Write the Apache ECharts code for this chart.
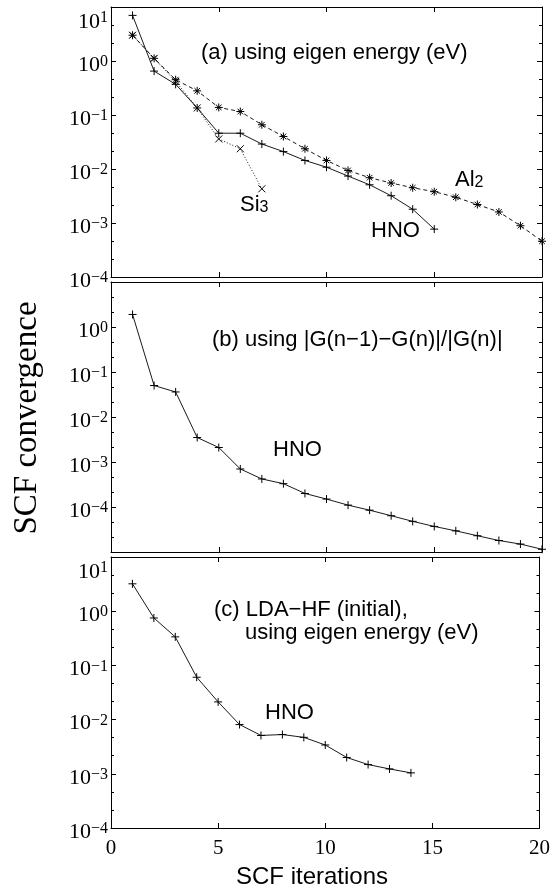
<!DOCTYPE html>
<html>
<head>
<meta charset="utf-8">
<script src="https://cdn.jsdelivr.net/npm/echarts@6/dist/echarts.min.js"></script>
<style>
  html, body { margin: 0; padding: 0; background: #fff; }
  #main { width: 553px; height: 890px; }
</style>
</head>
<body>
<div id="main"></div>
<script>
// SCF iteration index
const iterations = [1, 2, 3, 4, 5, 6, 7, 8, 9, 10, 11, 12, 13, 14, 15, 16, 17, 18, 19, 20];

// (a) eigen energy convergence (eV)
const hnoA = [7.0, 0.65, 0.37, 0.135, 0.046, 0.046, 0.029, 0.021, 0.0144, 0.0108, 0.0074, 0.0051, 0.0032, 0.0018, 0.00077];
const al2A = [3.0, 1.12, 0.45, 0.28, 0.138, 0.116, 0.066, 0.040, 0.0237, 0.0144, 0.0094, 0.0069, 0.0055, 0.0045, 0.0038, 0.0030, 0.0022, 0.0016, 0.00089, 0.00046];
const si3A = [3.0, 1.12, 0.42, 0.135, 0.036, 0.0237, 0.0043];

// (b) |G(n-1)-G(n)|/|G(n)|
const hnoB = [1.9, 0.05, 0.036, 0.0035, 0.0021, 0.0007, 0.00042, 0.00033, 0.0002, 0.00015, 0.00011, 0.000085, 0.000064, 0.000048, 0.000037, 0.0000295, 0.000023, 0.000018, 0.000015, 0.0000115];

// (c) LDA-HF initial, eigen energy
const hnoC = [3.2, 0.75, 0.336, 0.0605, 0.0212, 0.0081, 0.0051, 0.0053, 0.0047, 0.0034, 0.0020, 0.00148, 0.00123, 0.00104];

const xTicks = [0, 5, 10, 15, 20];
// y ranges (decades) per panel
const yExpA = [-4, 1];
const yExpB = [-5, 1];
const yExpC = [-4, 1];

const chart = echarts.init(document.getElementById('main'));

const pairs = vals => vals.map((v, i) => [iterations[i], v]);

const SERIF = '"Liberation Serif", "DejaVu Serif", serif';
const SANS = '"Liberation Sans", Arial, sans-serif';

// marker shapes (stroked)
const plusPath = 'path://M0,5L10,5M5,0L5,10';
const starPath = 'path://M0,5L10,5M5,0L5,10M1.5,1.5L8.5,8.5M8.5,1.5L1.5,8.5';
const crossPath = 'path://M0,0L10,10M10,0L0,10';

const grids = [
  { left: 111, right: 11, top: 5, height: 272 },
  { left: 111, right: 11, top: 282, height: 270 },
  { left: 111, right: 11, top: 557, height: 271 }
];

const black = { color: '#000', width: 1 };

function xAxisFor(g, pos, showLabel) {
  return {
    type: 'value', gridIndex: g, position: pos,
    min: xTicks[0], max: xTicks[xTicks.length - 1], interval: 5,
    axisLine: { show: true, onZero: false, lineStyle: black },
    axisTick: { show: true, inside: true, length: 5, lineStyle: black },
    axisLabel: { show: showLabel, margin: 10, color: '#000', fontFamily: SERIF, fontSize: 21 },
    splitLine: { show: false }
  };
}

// main log axis with the 10^n labels
function logAxisFor(g, exps, hidden) {
  return {
    type: 'log', logBase: 10, gridIndex: g, position: 'left',
    min: Math.pow(10, exps[0]), max: Math.pow(10, exps[1]),
    axisLine: { show: true, onZero: false, lineStyle: black },
    axisTick: { show: true, inside: true, length: 5, lineStyle: black },
    minorTick: { show: false },
    splitLine: { show: false },
    axisLabel: {
      show: true, margin: 3, padding: [8, 0, 0, 0],
      formatter: function (v) {
        const lg = Math.log10(v);
        const e = Math.round(lg);
        if (Math.abs(lg - e) > 1e-6 || hidden.indexOf(e) >= 0) return '';
        const s = e < 0 ? '\u2212' + (-e) : String(e);
        // the top label sits a bit below its tick in the original
        if (e === exps[1]) return '{B|10}{E|' + s + '}';
        return '{b|10}{e|' + s + '}';
      },
      rich: {
        b: { fontFamily: SERIF, fontSize: 22, lineHeight: 22, color: '#000', verticalAlign: 'bottom' },
        e: { fontFamily: SERIF, fontSize: 16, lineHeight: 16, color: '#000', verticalAlign: 'top' },
        B: { fontFamily: SERIF, fontSize: 22, lineHeight: 22, padding: [11, 0, 0, 0], color: '#000', verticalAlign: 'top' },
        E: { fontFamily: SERIF, fontSize: 16, lineHeight: 16, padding: [10, 0, 0, 0], color: '#000', verticalAlign: 'top' }
      }
    }
  };
}

// decade axis (log10 units) used only for the frame ticks and the minor ticks
function tickAxisFor(g, exps, pos, showLine, showMajor) {
  return {
    type: 'value', gridIndex: g, position: pos,
    min: exps[0], max: exps[1], interval: 1,
    axisLine: { show: showLine, onZero: false, lineStyle: black },
    axisTick: { show: showMajor, inside: true, length: 5, lineStyle: black },
    minorTick: { show: true, splitNumber: 3, length: 3, lineStyle: black },
    axisLabel: { show: false },
    splitLine: { show: false },
    minorSplitLine: { show: false }
  };
}

const lineBase = {
  type: 'line',
  showSymbol: true,
  itemStyle: { color: '#fff', borderColor: '#000', borderWidth: 1 },
  emphasis: { disabled: true },
  z: 3
};

const option = {
  backgroundColor: '#fff',
  animation: false,
  grid: grids,
  xAxis: [
    xAxisFor(0, 'bottom', false), xAxisFor(0, 'top', false),
    xAxisFor(1, 'bottom', false), xAxisFor(1, 'top', false),
    xAxisFor(2, 'bottom', true), xAxisFor(2, 'top', false)
  ],
  yAxis: [
    logAxisFor(0, yExpA, []),
    tickAxisFor(0, yExpA, 'left', false, false),
    tickAxisFor(0, yExpA, 'right', true, true),
    logAxisFor(1, yExpB, [1, -5]),
    tickAxisFor(1, yExpB, 'left', false, false),
    tickAxisFor(1, yExpB, 'right', true, true),
    logAxisFor(2, yExpC, []),
    tickAxisFor(2, yExpC, 'left', false, false),
    tickAxisFor(2, yExpC, 'right', true, true)
  ],
  series: [
    Object.assign({}, lineBase, {
      name: 'Al2', xAxisIndex: 0, yAxisIndex: 0, data: pairs(al2A),
      symbol: starPath, symbolSize: 8,
      lineStyle: { color: '#000', width: 0.9, type: [4, 3] }
    }),
    Object.assign({}, lineBase, {
      name: 'Si3', xAxisIndex: 0, yAxisIndex: 0, data: pairs(si3A),
      symbol: crossPath, symbolSize: 7,
      lineStyle: { color: '#000', width: 0.9, type: [1, 2] }
    }),
    Object.assign({}, lineBase, {
      name: 'HNO a', xAxisIndex: 0, yAxisIndex: 0, data: pairs(hnoA),
      symbol: plusPath, symbolSize: 8,
      lineStyle: { color: '#000', width: 0.9 }
    }),
    Object.assign({}, lineBase, {
      name: 'HNO b', xAxisIndex: 2, yAxisIndex: 3, data: pairs(hnoB),
      symbol: plusPath, symbolSize: 8,
      lineStyle: { color: '#000', width: 0.9 }
    }),
    Object.assign({}, lineBase, {
      name: 'HNO c', xAxisIndex: 4, yAxisIndex: 6, data: pairs(hnoC),
      symbol: plusPath, symbolSize: 8,
      lineStyle: { color: '#000', width: 0.9 }
    })
  ],
  graphic: [
    { type: 'text', x: 201, y: 53, style: { text: '(a) using eigen energy (eV)', font: '22px ' + SANS, fill: '#000', verticalAlign: 'middle' } },
    {
      type: 'text', x: 455, y: 180,
      style: {
        text: '{n|Al}{s|2}', verticalAlign: 'middle', fill: '#000',
        rich: {
          n: { font: '22px ' + SANS, lineHeight: 22, verticalAlign: 'top', fill: '#000' },
          s: { font: '16px ' + SANS, lineHeight: 16, verticalAlign: 'bottom', fill: '#000' }
        }
      }
    },
    {
      type: 'text', x: 240, y: 205,
      style: {
        text: '{n|Si}{s|3}', verticalAlign: 'middle', fill: '#000',
        rich: {
          n: { font: '22px ' + SANS, lineHeight: 22, verticalAlign: 'top', fill: '#000' },
          s: { font: '16px ' + SANS, lineHeight: 16, verticalAlign: 'bottom', fill: '#000' }
        }
      }
    },
    { type: 'text', x: 371, y: 231, style: { text: 'HNO', font: '22px ' + SANS, fill: '#000', verticalAlign: 'middle' } },
    { type: 'text', x: 212, y: 340, style: { text: '(b) using |G(n\u22121)\u2212G(n)|/|G(n)|', font: '22px ' + SANS, fill: '#000', verticalAlign: 'middle' } },
    { type: 'text', x: 273, y: 450, style: { text: 'HNO', font: '22px ' + SANS, fill: '#000', verticalAlign: 'middle' } },
    { type: 'text', x: 214, y: 610, style: { text: '(c) LDA\u2212HF (initial),', font: '22px ' + SANS, fill: '#000', verticalAlign: 'middle' } },
    { type: 'text', x: 245, y: 633, style: { text: 'using eigen energy (eV)', font: '22px ' + SANS, fill: '#000', verticalAlign: 'middle' } },
    { type: 'text', x: 265, y: 713, style: { text: 'HNO', font: '22px ' + SANS, fill: '#000', verticalAlign: 'middle' } },
    { type: 'text', x: 236, y: 877, style: { text: 'SCF iterations', font: '24px ' + SANS, fill: '#000', verticalAlign: 'middle' } },
    { type: 'text', x: 27, y: 418, rotation: Math.PI / 2, style: { text: 'SCF convergence', font: '33px ' + SERIF, fill: '#000', align: 'center', verticalAlign: 'middle' } }
  ]
};

chart.setOption(option);
</script>
</body>
</html>
